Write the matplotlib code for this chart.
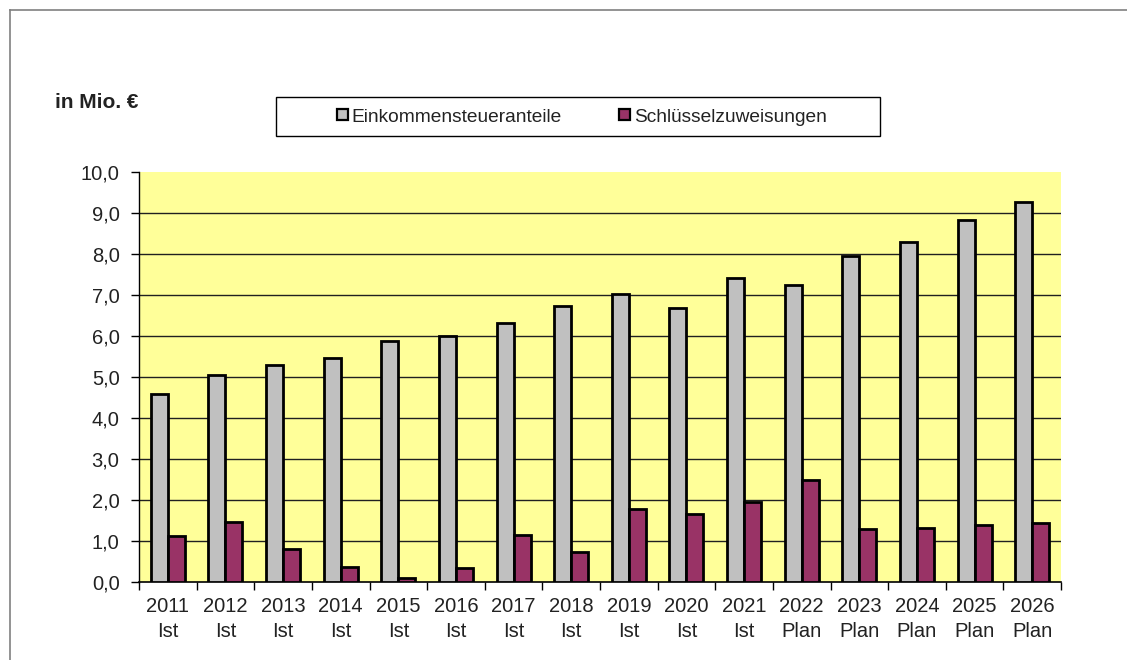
import matplotlib
matplotlib.use("Agg")
import matplotlib.pyplot as plt
import numpy as np
from matplotlib.patches import Rectangle, Patch
from matplotlib.lines import Line2D

years = ["2011", "2012", "2013", "2014", "2015", "2016", "2017", "2018",
         "2019", "2020", "2021", "2022", "2023", "2024", "2025", "2026"]
status = ["Ist"] * 11 + ["Plan"] * 5
einkommensteuer = [4.59, 5.05, 5.29, 5.47, 5.88, 6.00, 6.32, 6.74,
                   7.02, 6.68, 7.41, 7.24, 7.94, 8.29, 8.82, 9.26]
schluessel = [1.12, 1.47, 0.81, 0.37, 0.09, 0.34, 1.14, 0.74,
              1.79, 1.67, 1.94, 2.48, 1.30, 1.32, 1.38, 1.45]
series_names = ["Einkommensteueranteile", "Schlüsselzuweisungen"]
yticks = np.arange(0, 11, 1)

plt.rcParams['font.family'] = ['Liberation Sans', 'DejaVu Sans']
txt = "#222222"

W, H = 1127, 660
fig = plt.figure(figsize=(W / 100, H / 100), dpi=100)
fig.patch.set_facecolor("white")

# outer frame (top and left visible)
fig.add_artist(Line2D([10 / W, 10 / W], [0, 1 - 10 / H], transform=fig.transFigure,
                      color="#808080", lw=1.2))
fig.add_artist(Line2D([10 / W, 1], [1 - 10 / H, 1 - 10 / H], transform=fig.transFigure,
                      color="#808080", lw=1.2))

left, right, top, bottom = 139, 1061, 172, 582
ax = fig.add_axes([left / W, 1 - bottom / H, (right - left) / W, (bottom - top) / H])
ax.set_facecolor("#FFFF99")

x = np.arange(len(years))
bw = 0.295
c_gray = "#C0C0C0"
c_purple = "#993366"
ax.bar(x - bw / 2, einkommensteuer, width=bw, color=c_gray, edgecolor="black",
       linewidth=2.0, zorder=3)
ax.bar(x + bw / 2, schluessel, width=bw, color=c_purple, edgecolor="black",
       linewidth=2.0, zorder=3)

ax.set_xlim(-0.5, len(years) - 0.5)
ax.set_ylim(0, 10)
ax.set_yticks(yticks)
ax.set_yticklabels([f"{v:.1f}".replace(".", ",") for v in yticks], fontsize=14.5,
                   color=txt)
for v in yticks[1:-1]:
    ax.axhline(v, color="#202020", lw=1.0, zorder=1)

ax.set_xticks(x)
ax.set_xticklabels([f"{y}\n{s}" for y, s in zip(years, status)], fontsize=14.5,
                   linespacing=1.4, color=txt)
ax.tick_params(axis="x", length=0, pad=11)
# category boundary ticks
ax.set_xticks(np.arange(-0.5, len(years), 1), minor=True)
ax.tick_params(axis="x", which="minor", length=6, width=1, direction="out")
ax.tick_params(axis="y", length=6, width=1, direction="out", pad=8)

for s in ["top", "right"]:
    ax.spines[s].set_visible(False)
ax.spines["left"].set_color("black")
ax.spines["bottom"].set_color("black")
ax.spines["left"].set_linewidth(1)
ax.spines["bottom"].set_linewidth(1.2)

fig.text(55 / W, 1 - 103 / H, "in Mio. €", fontsize=15, fontweight="bold",
         ha="left", va="center", color=txt)

# legend frame
fig.add_artist(Rectangle((276 / W, 1 - 136 / H), 604 / W, 39 / H,
                         transform=fig.transFigure, facecolor="white",
                         edgecolor="black", lw=1.0, zorder=5))
handles = [Patch(facecolor=c_gray, edgecolor="black", linewidth=1.6),
           Patch(facecolor=c_purple, edgecolor="black", linewidth=1.6)]
leg = fig.legend(handles, series_names, loc="center",
                 bbox_to_anchor=(582 / W, 1 - 117 / H),
                 ncol=2, borderaxespad=0, fontsize=13.8,
                 handlelength=0.55, handleheight=0.55, handletextpad=0.2,
                 columnspacing=3.0, frameon=False, borderpad=0, labelcolor=txt)
leg.set_zorder(6)

fig.savefig("out.png", dpi=100)
